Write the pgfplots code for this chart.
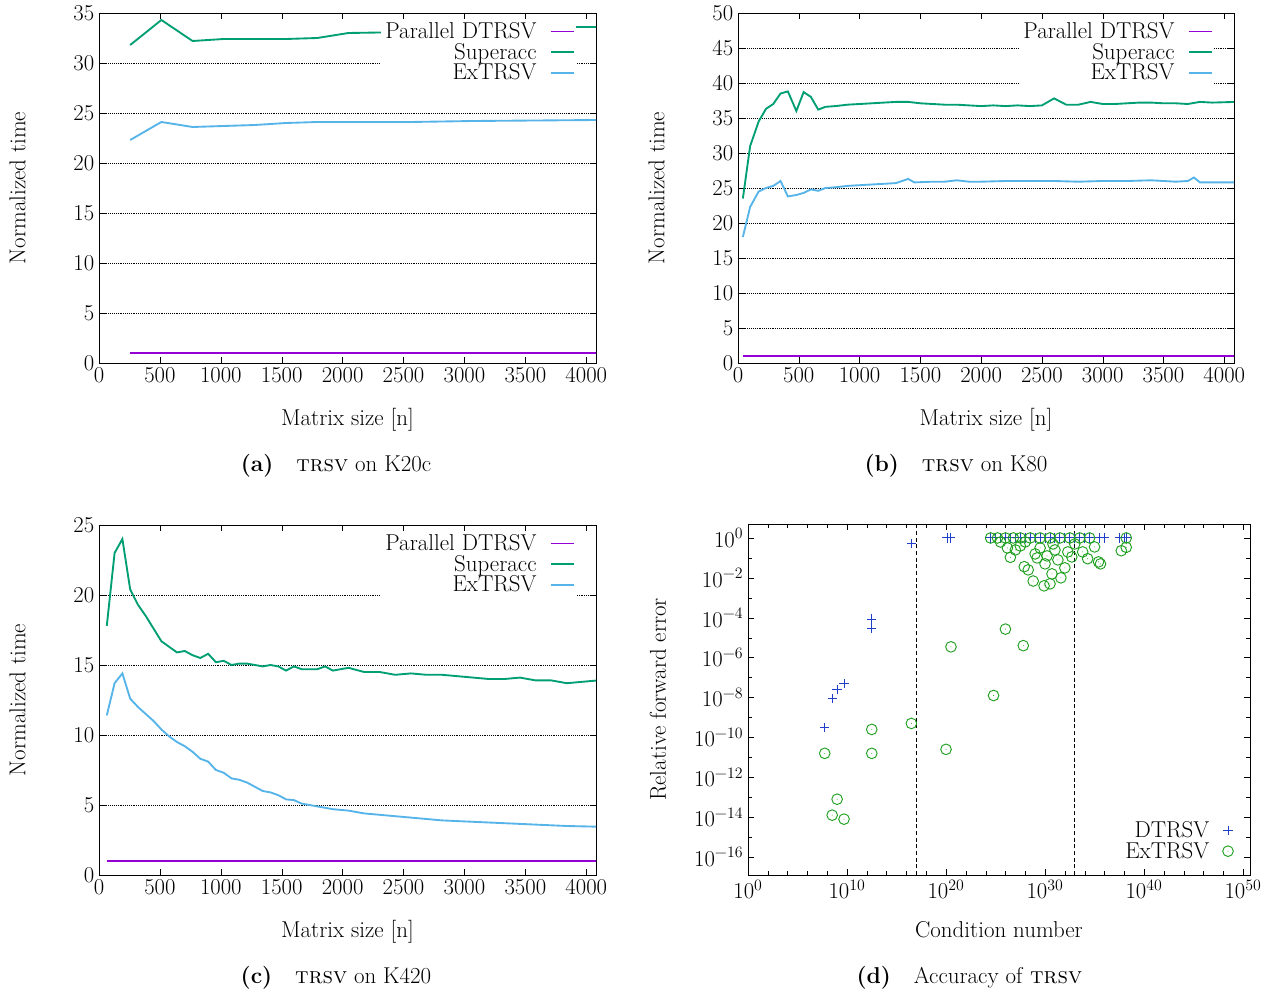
\documentclass[border=0pt]{standalone}
\usepackage{fontspec}
\usepackage{pgfplots}
\pgfplotsset{compat=1.18}
\definecolor{cpur}{HTML}{9400D3}
\definecolor{cgrn}{HTML}{009E73}
\definecolor{cblu}{HTML}{56B4E9}
\definecolor{dblu}{HTML}{1F3FC8}
\definecolor{dgrn}{HTML}{1FA01F}
\newcommand\bigf{\fontsize{17.2}{19}\selectfont}
\newcommand\sx[1]{10\textsuperscript{#1}}
\pgfdeclareplotmark{odot}{\pgfpathcircle{\pgfpoint{0pt}{0pt}}{\pgfplotmarksize}\pgfusepathqstroke
 \pgfpathcircle{\pgfpoint{0pt}{0pt}}{0.35pt}\pgfusepathqfill}
\pgfplotsset{
 gp/.style={scale only axis,
  tick label style={font=\fontsize{17}{19}\selectfont},
  /pgf/number format/assume math mode=true,
  label style={font=\bigf},
  tick align=inside, axis line style={black, line width=0.6pt},
  tick style={black}, legend plot pos=right, legend cell align=right,
  legend style={draw=none, fill=white, font=\bigf, at={(0.96,0.985)}, anchor=north east, inner sep=1pt, row sep=-2pt,
    /tikz/every odd column/.append style={column sep=8pt}},
 },
 perf/.style={gp, width=372.75pt, height=262.5pt, xmin=0, xmax=4080, ymin=0,
  xtick={0,500,...,4000}, ymajorgrids, grid style={black, densely dotted, line width=0.4pt},
  xlabel={Matrix size [n]}, ylabel={Normalized time},
  xlabel style={yshift=-12pt}, ylabel style={yshift=29pt},
  scaled x ticks=false, x tick label style={/pgf/number format/.cd, 1000 sep={}}},
 P/.style={cpur, line width=1.4pt, mark=none},
 S/.style={cgrn, line width=1.4pt, mark=none},
 E/.style={cblu, line width=1.4pt, mark=none},
}
\begin{document}
\begin{tikzpicture}
\useasboundingbox (0,0) rectangle (959.25pt,-745.5pt);
% (a)
\begin{axis}[perf, at={(74.25pt,-272.25pt)}, anchor=south west, ymax=35, ytick={0,5,...,35}]
\addplot[P] coordinates {(256,1)(4096,1)};
\addplot[S] coordinates {(256,31.8)(512,34.3)(768,32.2)(1024,32.4)(1536,32.4)(1792,32.5)(2048,33.0)(2560,33.1)(3072,33.3)(3584,33.4)(3840,33.6)(4096,33.6)};
\addplot[E] coordinates {(256,22.3)(512,24.1)(768,23.6)(1024,23.7)(1280,23.8)(1536,24.0)(1792,24.1)(2560,24.1)(3072,24.2)(4096,24.3)};
\legend{Parallel DTRSV,Superacc,ExTRSV}
\end{axis}
\node[font=\bigf] at (252pt,-349.5pt) {\textbf{(a)}\quad\textsc{trsv} on K20c};
% (b)
\begin{axis}[perf, at={(553.5pt,-272.25pt)}, anchor=south west, width=372pt, ymax=50, ytick={0,5,...,50}]
\addplot[P] coordinates {(40,1)(4096,1)};
\addplot[S] coordinates {(40,23.5)(100,31)(170,34.5)(230,36.3)(290,37)(350,38.5)(410,38.8)(480,36)(540,38.7)(600,38)(660,36.2)(720,36.6)(800,36.7)(900,36.9)(1000,37)(1100,37.1)(1200,37.2)(1300,37.3)(1400,37.3)(1500,37.1)(1600,37)(1700,36.9)(1800,36.9)(1900,36.8)(2000,36.7)(2100,36.8)(2200,36.7)(2300,36.8)(2400,36.7)(2500,36.8)(2600,37.8)(2700,36.9)(2800,36.9)(2900,37.3)(3000,37)(3100,37)(3200,37.1)(3300,37.2)(3400,37.2)(3500,37.1)(3600,37.1)(3700,37.0)(3800,37.3)(3900,37.2)(4096,37.3)};
\addplot[E] coordinates {(40,18)(100,22.3)(170,24.5)(230,25)(290,25.3)(350,26)(410,23.8)(480,24)(540,24.3)(600,24.8)(660,24.6)(720,25)(800,25.1)(900,25.3)(1000,25.4)(1100,25.5)(1200,25.6)(1300,25.7)(1400,26.3)(1450,25.8)(1600,25.9)(1700,25.9)(1800,26.1)(1900,25.9)(2000,25.9)(2200,26)(2400,26)(2600,26)(2800,25.9)(3000,26.0)(3200,26)(3400,26.1)(3600,25.9)(3700,26)(3750,26.5)(3800,25.8)(4096,25.8)};
\legend{Parallel DTRSV,Superacc,ExTRSV}
\end{axis}
\node[font=\bigf] at (717pt,-349.5pt) {\textbf{(b)}\quad\textsc{trsv} on K80};
% (c)
\begin{axis}[perf, at={(74.25pt,-656.25pt)}, anchor=south west, ymax=25, ytick={0,5,...,25}]
\addplot[P] coordinates {(64,1)(4096,1)};
\addplot[S] coordinates {(64,17.8)(128,23)(192,24)(256,20.4)(320,19.3)(384,18.5)(448,17.6)(512,16.7)(576,16.3)(640,15.9)(704,16)(768,15.7)(832,15.5)(896,15.8)(960,15.2)(1024,15.3)(1088,15)(1152,15.1)(1216,15.1)(1280,15)(1344,14.9)(1408,15.0)(1472,14.9)(1536,14.6)(1600,14.9)(1664,14.7)(1792,14.7)(1856,14.9)(1920,14.6)(2048,14.8)(2176,14.5)(2304,14.5)(2432,14.3)(2560,14.4)(2688,14.3)(2816,14.3)(2944,14.2)(3072,14.1)(3200,14.0)(3328,14.0)(3456,14.1)(3584,13.9)(3712,13.9)(3840,13.7)(3968,13.8)(4096,13.9)};
\addplot[E] coordinates {(64,11.4)(128,13.7)(192,14.4)(256,12.6)(320,12)(384,11.5)(448,11)(512,10.4)(576,9.9)(640,9.5)(704,9.2)(768,8.8)(832,8.3)(896,8.1)(960,7.5)(1024,7.3)(1088,6.9)(1152,6.8)(1216,6.6)(1280,6.3)(1344,6.0)(1408,5.9)(1472,5.7)(1536,5.4)(1600,5.35)(1664,5.1)(1792,4.9)(1920,4.7)(2048,4.6)(2176,4.4)(2304,4.3)(2432,4.2)(2560,4.1)(2816,3.9)(3072,3.8)(3328,3.7)(3584,3.6)(3840,3.5)(4096,3.45)};
\legend{Parallel DTRSV,Superacc,ExTRSV}
\end{axis}
\node[font=\bigf] at (252pt,-733pt) {\textbf{(c)}\quad\textsc{trsv} on K420};
% (d)
\begin{axis}[gp, at={(561pt,-656.25pt)}, anchor=south west, width=376.5pt, height=263.25pt,
 xmin=0, xmax=50.7, ymin=-16.9, ymax=0.7,
 xtick={0,10,...,50}, minor xtick={2,4,...,48},
 ytick={-16,-14,...,0}, minor ytick={-17,-15,...,-1},
 xticklabels={\sx{0},\sx{10},\sx{20},\sx{30},\sx{40},\sx{50}},
 yticklabels={\sx{−16},\sx{−14},\sx{−12},\sx{−10},\sx{−8},\sx{−6},\sx{−4},\sx{−2},\sx{0}},
 xlabel={Condition number}, ylabel={Relative forward error},
 xlabel style={yshift=-10pt}, ylabel style={yshift=14pt},
 legend style={at={(0.97,0.03)}, anchor=south east, fill=none}]
\addplot[only marks, mark=+, mark size=3.5pt, dblu, line width=0.7pt] coordinates {
(7.75,-9.5)(8.5,-8.05)(9.0,-7.6)(9.7,-7.3)(12.5,-4.07)(12.5,-4.54)(16.5,-0.27)(20.1,0)(20.4,0)
(24.5,0)(25,0)(25.5,0)(26,0)(26.5,0)(27,0)(27.5,0)(28,0)(28.5,0)(29,0)(29.5,0)(30,0)(30.5,0)(31,0)(31.5,0)(32,0)(32.5,0)(33,0)(33.5,0)(34,0)(34.5,0)(35.5,0)(36,0)(37.5,0)(38,0)(38.2,0)};
\addplot[only marks, mark=odot, mark size=4pt, dgrn, line width=0.7pt] coordinates {
(7.75,-10.8)(9.0,-13.1)(8.5,-13.9)(9.7,-14.1)(12.5,-9.6)(12.5,-10.8)(16.5,-9.3)(20.0,-10.6)(20.5,-5.46)(24.8,-7.9)(26.0,-4.57)(27.8,-5.4)
(24.5,0)(25.2,0)(26,0)(26.8,0)(27.5,0)(28.5,0)(29.5,0)(30.5,0)(31.5,0)(32.5,0)(33.5,0)(34.5,0)(38.2,0)
(25.5,-0.2)(26.2,-0.5)(26.5,-0.97)(27,-0.6)(27.5,-0.4)(27.9,-1.44)(28.3,-1.6)(28.8,-2.16)(29,-0.8)(29.5,-0.5)(29.9,-2.4)(30,-1.3)(30.2,-0.9)(30.5,-2.3)(30.7,-1.8)(31,-0.6)(31.3,-1.1)(31.6,-2.0)(32,-1.5)(32.3,-0.7)(32.7,-0.95)(33,-0.3)(33.8,-0.7)(34.3,-1.04)(35,-0.45)(35.4,-1.2)(35.6,-1.3)(37.7,-0.64)(38.2,-0.47)(29.2,-1.0)(30.8,-0.3)(28,-0.2)};
\addplot[black, densely dashed, forget plot, line width=0.6pt] coordinates {(17,-16.9)(17,0.7)};
\addplot[black, densely dashed, forget plot, line width=0.6pt] coordinates {(33,-16.9)(33,0.7)};
\legend{DTRSV,ExTRSV}
\end{axis}
\node[font=\bigf] at (727pt,-733pt) {\textbf{(d)}\quad Accuracy of \textsc{trsv}};
\end{tikzpicture}
\end{document}
